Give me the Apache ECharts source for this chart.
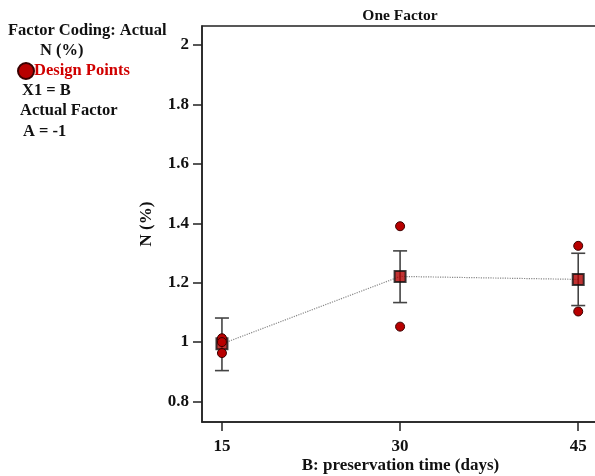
<!DOCTYPE html>
<html>
<head>
<meta charset="utf-8">
<script src="https://cdn.jsdelivr.net/npm/echarts@6/dist/echarts.min.js"></script>
<style>html,body{margin:0;padding:0;background:#fff}#c{width:595px;height:476px}</style>
</head>
<body>
<div id="c"></div>
<script>
const xValues = [15, 30, 45];
const meanN = [0.994, 1.221, 1.211];
const ciLow = [0.904, 1.133, 1.123];
const ciHigh = [1.081, 1.307, 1.299];
const designX = [15, 15, 15, 30, 30, 45, 45];
const designN = [1.013, 1.0, 0.963, 1.39, 1.052, 1.324, 1.103];
const yTicks = [0.8, 1, 1.2, 1.4, 1.6, 1.8, 2];
const xTicks = [15, 30, 45];
const pointLabels = ['', '2', '2'];

const F = '"Liberation Serif", "Times New Roman", serif';
const chart = echarts.init(document.getElementById('c'));

const meanData = xValues.map((x, i) => ({
  value: [x, meanN[i]],
  label: { show: pointLabels[i] !== '', formatter: pointLabels[i], position: 'left', distance: 5, fontSize: 8, color: '#333', fontFamily: F }
}));
const errData = xValues.map((x, i) => [x, ciLow[i], ciHigh[i]]);
const designData = designX.map((x, i) => [x, designN[i]]);

function txt(t, x, y) {
  return { type: 'text', x: x, y: y, style: { text: t, font: 'bold 16.5px ' + F, fill: '#111', verticalAlign: 'middle' } };
}

chart.setOption({
  animation: false,
  backgroundColor: '#fff',
  title: {
    text: 'One Factor', left: 400, top: 8, textAlign: 'center', padding: 0,
    textStyle: { fontFamily: F, fontWeight: 'bold', fontSize: 15.5, color: '#111' }
  },
  legend: {
    data: ['Design Points'], left: 17, top: 62, itemWidth: 16, itemHeight: 16, itemGap: 2, padding: 0,
    icon: 'circle',
    textStyle: { fontFamily: F, fontWeight: 'bold', fontSize: 16.5, color: '#d00000', padding: [0, 0, 0, -5] }
  },
  graphic: [
    txt('Factor Coding: Actual', 8, 31),
    txt('N (%)', 40, 51),
    txt('X1 = B', 22, 91),
    txt('Actual Factor', 20, 111),
    txt('A = -1', 23, 132)
  ],
  grid: { left: 202, top: 26, bottom: 54, right: -4, containLabel: false, outerBoundsMode: 'none',
    show: true, borderColor: '#222', borderWidth: 1.5, backgroundColor: '#fff' },
  xAxis: {
    type: 'value', min: 13.32, max: 46.75,
    name: 'B: preservation time (days)', nameLocation: 'middle', nameGap: 35, nameMoveOverlap: false,
    nameTextStyle: { fontFamily: F, fontWeight: 'bold', fontSize: 17, color: '#111' },
    axisLine: { show: true, lineStyle: { color: '#222', width: 1.5 } },
    axisTick: { show: true, length: 9, lineStyle: { color: '#222', width: 1.5 }, customValues: xTicks },
    axisLabel: { customValues: xTicks, fontFamily: F, fontWeight: 'bold', fontSize: 17, color: '#111', margin: 16 },
    splitLine: { show: false }
  },
  yAxis: {
    type: 'value', min: 0.731, max: 2.064,
    name: 'N (%)', nameLocation: 'middle', nameGap: 47, nameRotate: 90, nameMoveOverlap: false,
    nameTextStyle: { fontFamily: F, fontWeight: 'bold', fontSize: 17, color: '#111' },
    axisLine: { show: true, lineStyle: { color: '#222', width: 1.5 } },
    axisTick: { show: true, length: 9, lineStyle: { color: '#222', width: 1.5 }, customValues: yTicks },
    axisLabel: { customValues: yTicks, fontFamily: F, fontWeight: 'bold', fontSize: 17, color: '#111', margin: 13 },
    splitLine: { show: false }
  },
  series: [
    {
      type: 'line', name: 'Mean', data: meanData, symbol: 'none',
      lineStyle: { color: '#888', width: 1.2, type: 'dotted' }, z: 2
    },
    {
      type: 'custom', name: 'CI', data: errData, z: 3,
      renderItem: function (params, api) {
        const x = api.value(0);
        const lo = api.coord([x, api.value(1)]);
        const hi = api.coord([x, api.value(2)]);
        const hw = 7;
        const st = { stroke: '#444', lineWidth: 1.6 };
        return {
          type: 'group', children: [
            { type: 'line', shape: { x1: lo[0], y1: lo[1], x2: hi[0], y2: hi[1] }, style: st },
            { type: 'line', shape: { x1: lo[0] - hw, y1: lo[1], x2: lo[0] + hw, y2: lo[1] }, style: st },
            { type: 'line', shape: { x1: hi[0] - hw, y1: hi[1], x2: hi[0] + hw, y2: hi[1] }, style: st }
          ]
        };
      }
    },
    {
      type: 'scatter', name: 'MeanPts', data: meanData.map(d => d.value), symbol: 'rect', symbolSize: 11,
      itemStyle: { color: '#b00000', borderColor: '#111', borderWidth: 2 }, z: 4
    },
    {
      type: 'scatter', name: 'Design Points', data: designData, symbol: 'circle', symbolSize: 9,
      itemStyle: { color: '#b80000', borderColor: '#3a0000', borderWidth: 1, opacity: 1 }, z: 5
    }
  ]
});
</script>
</body>
</html>
